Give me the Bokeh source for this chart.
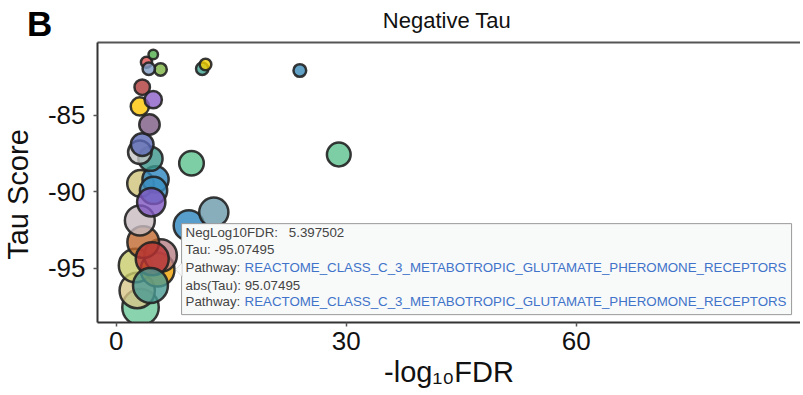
import math
from bokeh.plotting import figure
from bokeh.models import (Label, BoxAnnotation, PolyAnnotation, FixedTicker, LinearAxis,
                          ColumnDataSource, Range1d)
from bokeh.embed import file_html
from bokeh.resources import INLINE

# ---------------- data (drawing order) ----------------
neglog10fdr = [3.17, 2.74, 2.52, 5.397502, 5.78, 3.52, 3.08, 3.17, 5.13, 4.87,
               4.57, 4.70, 4.47, 9.47, 12.73, 4.47, 3.08, 3.39, 4.34, 3.08,
               3.39, 4.83, 5.78, 3.95, 4.25, 4.83, 11.22, 11.65, 23.95, 9.82,
               29.03]
tau = [-97.53, -96.44, -94.80, -95.07495, -94.15, -93.28, -91.86, -89.44, -89.18, -89.90,
       -90.67, -94.37, -96.11, -92.19, -91.32, -87.83, -87.40, -86.90, -85.59, -84.41,
       -83.15, -83.97, -81.99, -81.52, -81.95, -81.01, -81.95, -81.67, -82.06, -88.12,
       -87.55]
palette = ["#6cc89a", "#d8c58a", "#c8cc6a", "#f0a000", "#b88086", "#c0692e", "#c8bcc0",
           "#cfc37a", "#2e86c1", "#3a8ec2", "#7e57c2", "#b83232", "#4a9a94", "#2e86c1",
           "#6a9aab", "#3a968c", "#c5c5c5", "#5a68b5", "#7d5a85", "#ffc400", "#b03a3a",
           "#8b5fc7", "#7cb342", "#e05050", "#7f9bc4", "#4daf4a", "#3fa08e", "#f5d000",
           "#3a8bb8", "#5cc08e", "#5cc08e"]
hover_index = 3
hover_pathway = "REACTOME_CLASS_C_3_METABOTROPIC_GLUTAMATE_PHEROMONE_RECEPTORS"
x_ticks = [0, 30, 60]
y_ticks = [-95, -90, -85]
title_text = "Negative Tau"
panel_letter = "B"
x_title = "-log\u2081\u2080FDR"
y_title = "Tau Score"

# ---------------- layout (canvas pixels) ----------------
W, H = 800, 393
FL, FT, FB, FR = 97, 42, 322, 803          # visible plot box edges
X0, X1 = -2.44, 89.64                      # data at FL / FR
Y0, Y1 = -98.53, -80.23                    # data at FB / FT
XPX = (FR - FL) / (X1 - X0)
YPX = (FB - FT) / (Y1 - Y0)
XS, XE = X0 - FL / XPX, X0 + (W - FL) / XPX
YE, YS = Y1 + FT / YPX, Y0 - (H - FB) / YPX


def cx(px):
    return XS + px / XPX


def cy(py):
    return YE - py / YPX


def dx(px):
    return px / XPX


def up(px):
    return px / YPX


FONT = "Liberation Sans"

abs_tau = [abs(t) for t in tau]
amin, amax = min(abs_tau), max(abs_tau)
r_min, r_max = 6.0, 19.5            # area-proportional size mapping
sizes = []
for a in abs_tau:
    area = r_min ** 2 + (a - amin) / (amax - amin) * (r_max ** 2 - r_min ** 2)
    sizes.append(2 * (area ** 0.5 - 1.25))

src = ColumnDataSource(dict(x=neglog10fdr, y=tau, size=sizes, color=palette))

p = figure(width=W, height=H, x_range=Range1d(XS, XE), y_range=Range1d(YS, YE),
           output_backend="svg", toolbar_location=None,
           min_border_left=0, min_border_right=0, min_border_top=0, min_border_bottom=0)
p.outline_line_color = None
p.xgrid.visible = False
p.ygrid.visible = False
p.background_fill_color = "white"
p.border_fill_color = "white"

for ax in (p.xaxis[0], p.yaxis[0]):
    ax.axis_line_color = "#333333"
    ax.axis_line_width = 2
    ax.major_tick_line_color = "#555555"
    ax.major_tick_line_width = 1.5
    ax.major_tick_out = 4
    ax.major_tick_in = 0
    ax.minor_tick_line_color = None
    ax.major_label_text_font = FONT
    ax.major_label_text_font_size = "26px"
    ax.major_label_text_color = "#111111"
    ax.axis_label_text_font = FONT
    ax.axis_label_text_font_size = "29px"
    ax.axis_label_text_font_style = "normal"
    ax.axis_label_text_color = "#111111"

p.xaxis.fixed_location = Y0
p.xaxis.bounds = (X0, X1)
p.yaxis.fixed_location = X0
p.yaxis.bounds = (Y0, Y1)
p.xaxis.ticker = FixedTicker(ticks=x_ticks)
p.yaxis.ticker = FixedTicker(ticks=y_ticks)
p.xaxis.major_label_overrides = {t: str(t) for t in x_ticks}
p.yaxis.major_label_overrides = {t: str(t) for t in y_ticks}
p.xaxis.axis_label = x_title
p.xaxis.major_label_standoff = 5
p.xaxis.axis_label_standoff = 3
p.yaxis.major_label_standoff = 8

# top border line
top_axis = LinearAxis(fixed_location=Y1, bounds=(X0, X1), ticker=FixedTicker(ticks=[]),
                      axis_line_color="#555555", axis_line_width=2,
                      major_tick_line_color=None, minor_tick_line_color=None,
                      major_label_text_font_size="0px")
p.add_layout(top_axis, "above")

p.scatter("x", "y", source=src, size="size", fill_color="color", fill_alpha=0.8,
          line_color="#222222", line_width=2.5, line_alpha=0.9)

# clip marks below the x axis (like the plot panel clip)
mask = BoxAnnotation(top=Y0, fill_color="white", fill_alpha=1, line_color=None, level="glyph")
p.renderers.append(mask)

# y axis title, plot title and panel letter
p.add_layout(Label(x=cx(17.5), y=cy(194), text=y_title, angle=math.pi / 2, text_font=FONT,
                   text_font_size="29px", text_color="#111111",
                   text_baseline="middle", text_align="center"))
p.add_layout(Label(x=cx(446.5), y=cy(19.5), text=title_text, text_font=FONT,
                   text_font_size="22px", text_color="#111111",
                   text_baseline="middle", text_align="center"))
p.add_layout(Label(x=cx(26.5), y=cy(22.5), text=panel_letter, text_font=FONT,
                   text_font_size="35px", text_font_style="bold", text_color="black",
                   text_baseline="middle", text_align="left"))

# ---------------- static hover tooltip ----------------
hx, hy = neglog10fdr[hover_index], tau[hover_index]
box = BoxAnnotation(left=hx + dx(24), right=hx + dx(634), top=hy + up(46), bottom=hy - up(45),
                    fill_color="#f8f9f9", fill_alpha=1, line_color="#9a9a9a", line_alpha=1,
                    line_width=1, line_dash="solid", level="overlay")
p.add_layout(box)
arrow = PolyAnnotation(xs=[hx + dx(24.5), hx + dx(18), hx + dx(24.5)],
                       ys=[hy + up(7), hy, hy - up(7)],
                       fill_color="#f8f9f9", fill_alpha=1, line_color="#9a9a9a",
                       line_width=1, level="overlay")
p.add_layout(arrow)

GRAY = "#444444"
BLUE = "#3f73c9"


def tip(xoff, yoff, text, color=GRAY):
    p.add_layout(Label(x=hx + dx(xoff), y=hy + up(yoff + 2), text=text, text_font=FONT,
                       text_font_size="13.3px", text_color=color, text_baseline="middle",
                       text_align="left", level="overlay"))


tip(28, 35.2, "NegLog10FDR:")
tip(131.2, 35.2, f"{hx:.6f}")
tip(28, 17.9, f"Tau: {hy:.5f}")
tip(28, 0.2, "Pathway:")
tip(87, 0.2, hover_pathway, BLUE)
tip(28, -17.4, f"abs(Tau): {abs(hy):.5f}")
tip(28, -34.1, "Pathway:")
tip(87, -34.1, hover_pathway, BLUE)

open("out.html", "w").write(file_html(p, INLINE))
